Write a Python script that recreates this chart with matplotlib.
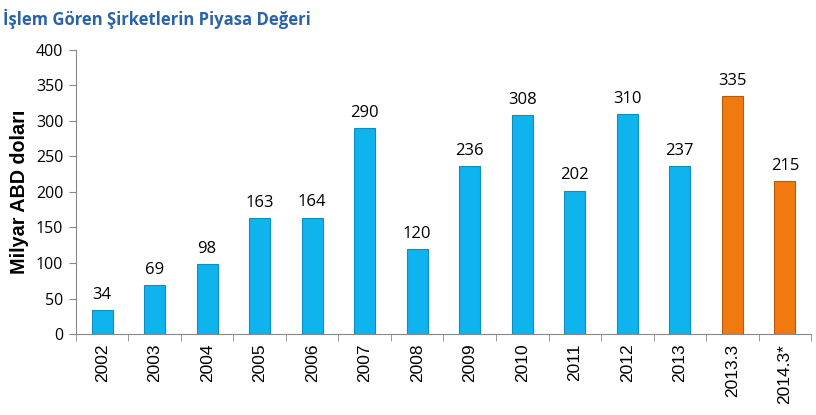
import matplotlib.pyplot as plt
import numpy as np

years = ["2002", "2003", "2004", "2005", "2006", "2007", "2008", "2009",
         "2010", "2011", "2012", "2013", "2013.3", "2014.3*"]
values = [34, 69, 98, 163, 164, 290, 120, 236, 308, 202, 310, 237, 335, 215]
highlight = [False] * 12 + [True, True]

BLUE, BLUE_EDGE = "#0FB4EE", "#0A8FC0"
ORANGE, ORANGE_EDGE = "#F07A10", "#B85A08"

fig = plt.figure(figsize=(8.16, 4.15), dpi=100)
ax = fig.add_axes([0.093, 0.195, 0.901, 0.685])

x = np.arange(len(years))
colors = [ORANGE if h else BLUE for h in highlight]
edges = [ORANGE_EDGE if h else BLUE_EDGE for h in highlight]
ax.bar(x, values, width=0.4, color=colors, edgecolor=edges, linewidth=0.8, zorder=3)

for xi, v in zip(x, values):
    ax.text(xi, v + 10, str(v), ha="center", va="bottom", fontsize=12,
            family="Open Sans", color="black")

ax.set_xlim(-0.5, len(years) - 0.5)
ax.set_ylim(0, 400)
ax.set_yticks(range(0, 401, 50))
ax.tick_params(axis="y", labelsize=11.5, length=5, color="#888888", pad=4)
for lbl in ax.get_yticklabels():
    lbl.set_family("Open Sans")
ax.set_xticks(x)
ax.set_xticklabels(years, rotation=90, fontsize=12.5, family="Liberation Sans")
ax.set_xticks(np.arange(-0.5, len(years), 1), minor=True)
ax.tick_params(axis="x", which="major", length=0, pad=7)
ax.tick_params(axis="x", which="minor", length=5, color="#888888")

for s in ["top", "right"]:
    ax.spines[s].set_visible(False)
for s in ["left", "bottom"]:
    ax.spines[s].set_color("#888888")

ax.set_ylabel("Milyar ABD doları", fontsize=14.2, fontweight="bold",
              family="Liberation Sans", labelpad=5)

fig.text(0.004, 0.955, "İşlem Gören Şirketlerin Piyasa Değeri", fontsize=12,
         fontweight="bold", family="Open Sans", color="#2B63A8", va="center")

fig.savefig("out.png", dpi=100)
